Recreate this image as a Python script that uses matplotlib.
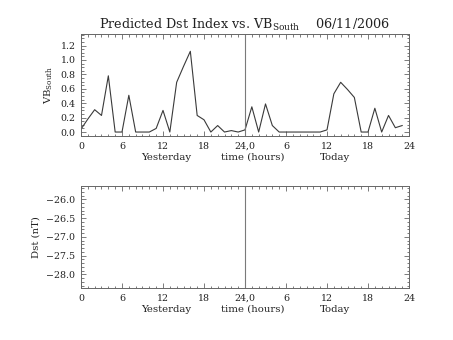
import matplotlib
matplotlib.use("Agg")
import matplotlib.pyplot as plt
from matplotlib.ticker import FixedLocator, MultipleLocator, FixedFormatter
import numpy as np

plt.rcParams["font.family"] = "DejaVu Serif"
plt.rcParams["mathtext.fontset"] = "dejavuserif"

# hourly VB_south over yesterday (0-23) and today (24-47)
hours = np.arange(48)
vb_south = [0.04, 0.18, 0.31, 0.23, 0.78, 0.0, 0.0, 0.51, 0.0, 0.0,
            0.0, 0.05, 0.30, 0.0, 0.69, 0.91, 1.12, 0.23, 0.17, 0.0,
            0.09, 0.0, 0.02, 0.0, 0.03, 0.35, 0.0, 0.39, 0.09, 0.0,
            0.0, 0.0, 0.0, 0.0, 0.0, 0.0, 0.03, 0.53, 0.69, 0.59,
            0.48, 0.0, 0.0, 0.33, 0.0, 0.23, 0.06, 0.09]

x_ticks = [0, 6, 12, 18, 24, 30, 36, 42, 48]
x_ticklabels = ["0", "6", "12", "18", "24,0", "6", "12", "18", "24"]
vb_ticks = [0.0, 0.2, 0.4, 0.6, 0.8, 1.0, 1.2]
dst_ticks = [-28.0, -27.5, -27.0, -26.5, -26.0]

INK = "#3a3a3a"
SPINE = "#666666"
TXT = "#222222"


def style_axes(ax):
    ax.set_xlim(0, 48)
    ax.xaxis.set_major_locator(FixedLocator(x_ticks))
    ax.xaxis.set_major_formatter(FixedFormatter(x_ticklabels))
    ax.xaxis.set_minor_locator(MultipleLocator(1))
    ax.tick_params(which="both", direction="in", top=True, right=True,
                   colors=SPINE, labelcolor=TXT, labelsize=6.8, width=0.6)
    ax.tick_params(which="major", length=3.5, pad=4)
    ax.tick_params(which="minor", length=1.8)
    for s in ax.spines.values():
        s.set_color(SPINE)
        s.set_linewidth(0.7)
    ax.axvline(24, color="#7a7a7a", lw=0.8)
    trans = ax.get_xaxis_transform()
    for xpos, txt in [(12.4, "Yesterday"), (25.2, "time (hours)"), (37.1, "Today")]:
        ax.text(xpos, -0.21, txt, transform=trans, ha="center", va="center",
                fontsize=7.3, color=TXT)


fig = plt.figure(figsize=(4.53, 3.40), dpi=100)

ax1 = fig.add_axes([0.1788, 0.6, 0.7241, 0.3])
ax1.plot(hours, vb_south, color=INK, lw=0.8)
ax1.set_ylim(-0.055, 1.36)
ax1.set_yticks(vb_ticks)
ax1.set_yticklabels([f"{v:.1f}" for v in vb_ticks])
ax1.yaxis.set_minor_locator(MultipleLocator(0.05))
style_axes(ax1)
ax1.set_ylabel(r"VB$_{\mathrm{South}}$", fontsize=7.3, color=TXT, labelpad=4)
ax1.set_title(r"Predicted Dst Index vs. VB$_{\mathrm{South}}$    06/11/2006",
              fontsize=9.2, color=TXT, pad=4)

ax2 = fig.add_axes([0.1788, 0.1529, 0.7241, 0.3])
ax2.set_ylim(-28.365, -25.645)
ax2.set_yticks(dst_ticks)
ax2.set_yticklabels([f"\u2212{abs(v):.1f}" for v in dst_ticks])
ax2.yaxis.set_minor_locator(MultipleLocator(0.1))
style_axes(ax2)
ax2.set_ylabel("Dst (nT)", fontsize=7.3, color=TXT, labelpad=4)

fig.savefig("out.png", dpi=100)
